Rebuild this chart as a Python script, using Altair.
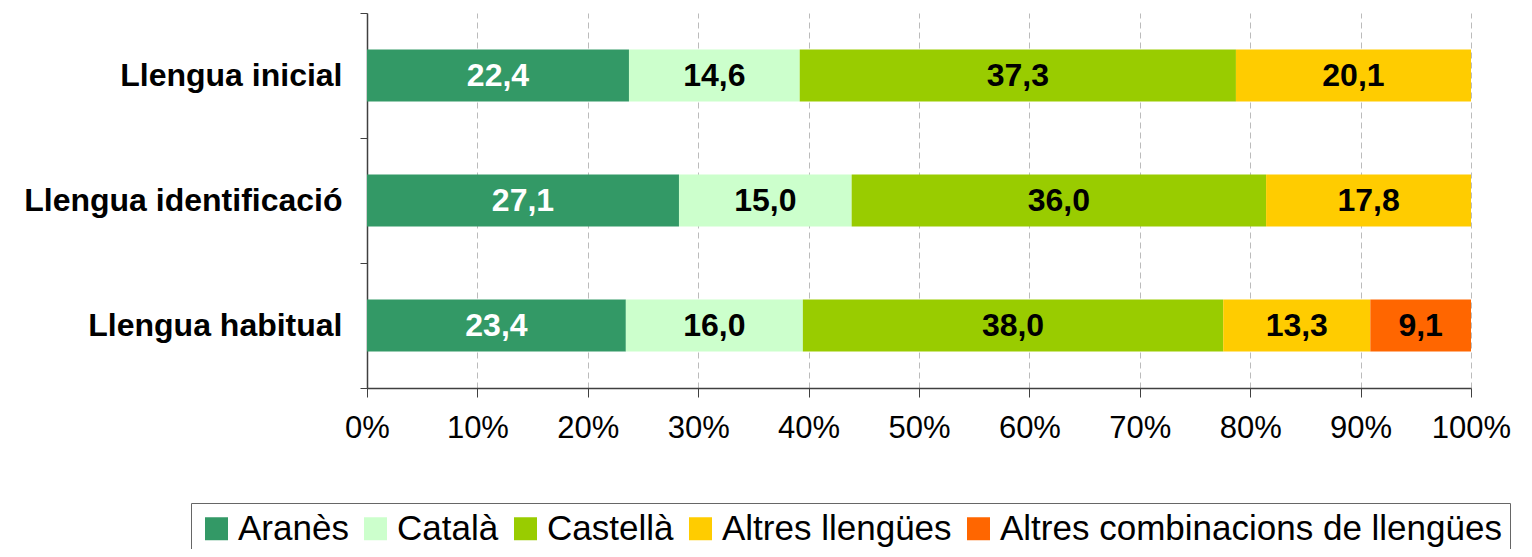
import altair as alt
import pandas as pd

categories = ["Llengua inicial", "Llengua identificació", "Llengua habitual"]
series = ["Aranès", "Català", "Castellà", "Altres llengües", "Altres combinacions de llengües"]
colors = ["#339966", "#CCFFCC", "#99CC00", "#FFCC00", "#FF6600"]

aranes = [22.4, 27.1, 23.4]
catala = [14.6, 15.0, 16.0]
castella = [37.3, 36.0, 38.0]
altres = [20.1, 17.8, 13.3]
combinacions = [None, None, 9.1]

rows = []
for si, (name, vals) in enumerate(zip(series, [aranes, catala, castella, altres, combinacions])):
    for ci, cat in enumerate(categories):
        if vals[ci] is not None:
            rows.append({"cat": cat, "serie": name, "value": vals[ci], "order": si})
df = pd.DataFrame(rows)

FONT = "Liberation Sans"

base = alt.Chart(df).transform_stack(
    stack="value",
    groupby=["cat"],
    sort=[alt.SortField("order", order="ascending")],
    as_=["x0", "x1"],
    offset="normalize",
).transform_calculate(
    mid="(datum.x0 + datum.x1) / 2",
    label="replace(format(datum.value, '.1f'), '.', ',')",
)

y_enc = alt.Y(
    "cat:N",
    sort=categories,
    title=None,
    scale=alt.Scale(paddingInner=0, paddingOuter=0),
    axis=alt.Axis(
        labelFont=FONT,
        labelFontSize=32,
        labelFontWeight="bold",
        labelColor="black",
        labelPadding=18,
        labelLimit=500,
        tickBand="extent",
        tickSize=7,
        tickColor="#404040",
        domainColor="#404040",
        domainWidth=1.5,
        grid=False,
    ),
)

bars = base.mark_bar(size=52).encode(
    x=alt.X(
        "x0:Q",
        scale=alt.Scale(domain=[0, 1], nice=False),
        title=None,
        axis=alt.Axis(
            values=[i / 10 for i in range(11)],
            format="%",
            labelFont=FONT,
            labelFontSize=31,
            labelColor="black",
            labelPadding=16,
            tickSize=9,
            tickColor="#404040",
            domainColor="#404040",
            domainWidth=1.5,
            grid=True,
            gridColor="#bbbbbb",
            gridDash=[6, 4],
            labelFlush=False,
        ),
    ),
    x2="x1:Q",
    y=y_enc,
    color=alt.Color(
        "serie:N",
        scale=alt.Scale(domain=series, range=colors),
        sort=series,
        legend=alt.Legend(
            title=None,
            orient="none",
            direction="horizontal",
            legendX=-176,
            legendY=490,
            labelFont=FONT,
            labelFontSize=35,
            labelColor="black",
            labelOffset=4,
            columnPadding=9,
            symbolType="square",
            symbolSize=529,
            symbolStrokeWidth=0,
            padding=8,
            strokeColor="#666666",
            fillColor="white",
            labelLimit=1000,
        ),
    ),
)

texts = base.mark_text(font=FONT, fontSize=32, fontWeight="bold", baseline="middle").encode(
    x="mid:Q",
    y=alt.Y("cat:N", sort=categories),
    text="label:N",
    color=alt.condition(alt.datum.serie == "Aranès", alt.value("white"), alt.value("black")),
)

chart = alt.layer(bars, texts).properties(
    width=1104,
    height=375,
    autosize=alt.AutoSizeParams(type="none"),
    padding={"left": 359, "top": 5, "right": 53, "bottom": 161},
    background="white",
).configure_view(stroke=None)

chart.save("out.html", embed_options={"renderer": "svg", "actions": False})
